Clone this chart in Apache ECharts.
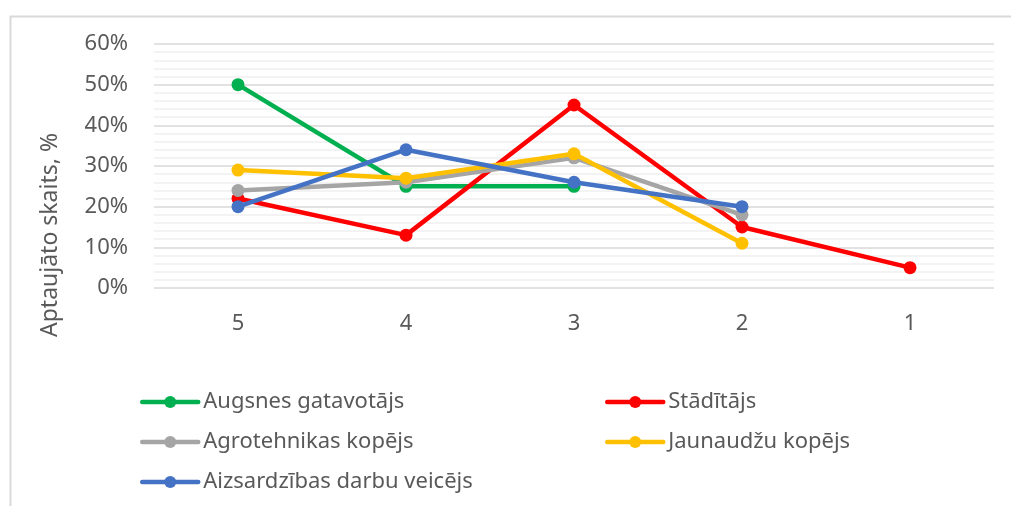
<!DOCTYPE html>
<html>
<head>
<meta charset="utf-8">
<script src="https://cdn.jsdelivr.net/npm/echarts@6/dist/echarts.min.js"></script>
<style>
  html, body { margin: 0; padding: 0; background: #fff; }
  #chart { width: 1011px; height: 506px; }
</style>
</head>
<body>
<div id="chart"></div>
<script>
const categories = ['5', '4', '3', '2', '1']
const seriesNames = [
  'Augsnes gatavotājs',
  'Stādītājs',
  'Agrotehnikas kopējs',
  'Jaunaudžu kopējs',
  'Aizsardzības darbu veicējs',
]
const augsnes = [50, 25, 25, null, null]
const staditajs = [22, 13, 45, 15, 5]
const agrotehnikas = [24, 26, 32, 18, null]
const jaunaudzu = [29, 27, 33, 11, null]
const aizsardzibas = [20, 34, 26, 20, null]
const colors = ['#00b050', '#ff0000', '#a5a5a5', '#ffc000', '#4472c4']
const yTicks = { min: 0, max: 60, interval: 10 }
const axisTitle = 'Aptaujāto skaits, %'

const font = 'Noto Sans'
const textColor = '#595959'

const chart = echarts.init(document.getElementById('chart'), null, { renderer: 'canvas' })

const values = [augsnes, staditajs, agrotehnikas, jaunaudzu, aizsardzibas]

const legendCommon = {
  orient: 'vertical',
  top: 391,
  padding: 0,
  itemWidth: 56,
  itemHeight: 15,
  itemGap: 18,
  lineStyle: { width: 4.5, cap: 'round' },
  textStyle: { fontFamily: font, fontSize: 22, color: textColor, lineHeight: 22 },
}

const option = {
  animation: false,
  backgroundColor: '#fff',
  color: colors,
  grid: { left: 154, right: 17, top: 44, bottom: 218 },
  legend: [
    { ...legendCommon, left: 140, data: [seriesNames[0], seriesNames[2], seriesNames[4]] },
    { ...legendCommon, left: 605, data: [seriesNames[1], seriesNames[3]] },
  ],
  graphic: [
    {
      type: 'rect',
      left: 8, top: 14,
      shape: { width: 1100, height: 600 },
      style: { fill: 'none', stroke: '#d9d9d9', lineWidth: 2 },
      silent: true,
    },
    {
      type: 'text',
      x: 50, y: 235,
      rotation: Math.PI / 2,
      style: {
        text: axisTitle,
        fontFamily: font, fontSize: 23, fill: textColor,
        align: 'center', verticalAlign: 'middle',
      },
    },
  ],
  xAxis: {
    type: 'category',
    data: categories,
    boundaryGap: true,
    axisLine: { show: false },
    axisTick: { show: false },
    axisLabel: { margin: 25, fontFamily: font, fontSize: 22, color: textColor },
  },
  yAxis: {
    type: 'value',
    min: yTicks.min,
    max: yTicks.max,
    interval: yTicks.interval,
    axisLine: { show: false },
    axisTick: { show: false },
    axisLabel: { margin: 26, formatter: '{value}%', fontFamily: font, fontSize: 22, color: textColor },
    splitLine: { lineStyle: { color: '#d9d9d9', width: 1.5 } },
    minorTick: { show: false, splitNumber: 5 },
    minorSplitLine: { show: true, lineStyle: { color: '#efefef', width: 1.5 } },
  },
  series: seriesNames.map((name, i) => ({
    name,
    type: 'line',
    data: values[i],
    symbol: 'circle',
    symbolSize: 13,
    lineStyle: { width: 4.5, color: colors[i], cap: 'round' },
    itemStyle: { color: colors[i] },
    z: 2 + i,
  })),
}

chart.setOption(option)
</script>
</body>
</html>
